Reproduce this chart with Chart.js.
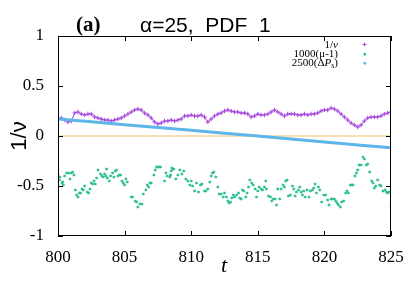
<!DOCTYPE html>
<html>
<head>
<meta charset="utf-8">
<script src="https://cdn.jsdelivr.net/npm/chart.js@4/dist/chart.umd.min.js"></script>
<style>
  html, body { margin: 0; padding: 0; background: #fff; }
  #wrap { width: 412px; height: 289px; }
</style>
</head>
<body>
<div id="wrap"><canvas id="chart" width="412" height="289"></canvas></div>
<script>
// tick labels
const xTicks = [800, 805, 810, 815, 820, 825];
const yTicks = [-1, -0.5, 0, 0.5, 1];
const yTickText = ["-1", "-0.5", "0", "0.5", "1"];

// 1/nu, sampled every 0.25 in t
const nuT = [
  800, 800.25, 800.5, 800.75, 801, 801.25, 801.5, 801.75, 802, 802.25, 802.5, 802.75,
  803, 803.25, 803.5, 803.75, 804, 804.25, 804.5, 804.75, 805, 805.25, 805.5, 805.75,
  806, 806.25, 806.5, 806.75, 807, 807.25, 807.5, 807.75, 808, 808.25, 808.5, 808.75,
  809, 809.25, 809.5, 809.75, 810, 810.25, 810.5, 810.75, 811, 811.25, 811.5, 811.75,
  812, 812.25, 812.5, 812.75, 813, 813.25, 813.5, 813.75, 814, 814.25, 814.5, 814.75,
  815, 815.25, 815.5, 815.75, 816, 816.25, 816.5, 816.75, 817, 817.25, 817.5, 817.75,
  818, 818.25, 818.5, 818.75, 819, 819.25, 819.5, 819.75, 820, 820.25, 820.5, 820.75,
  821, 821.25, 821.5, 821.75, 822, 822.25, 822.5, 822.75, 823, 823.25, 823.5, 823.75,
  824, 824.25, 824.5, 824.75, 825
];
const nuV = [
  0.17, 0.18, 0.16, 0.14, 0.15, 0.23, 0.24, 0.22, 0.21, 0.22, 0.22, 0.19,
  0.18, 0.17, 0.16, 0.16, 0.15, 0.16, 0.17, 0.18, 0.20, 0.22, 0.24, 0.26,
  0.27, 0.26, 0.23, 0.21, 0.18, 0.14, 0.12, 0.13, 0.15, 0.15, 0.16, 0.15,
  0.16, 0.17, 0.20, 0.20, 0.21, 0.20, 0.20, 0.21, 0.19, 0.14, 0.17, 0.20,
  0.22, 0.23, 0.25, 0.26, 0.25, 0.24, 0.24, 0.23, 0.23, 0.22, 0.19, 0.20,
  0.22, 0.21, 0.21, 0.22, 0.24, 0.26, 0.24, 0.22, 0.20, 0.22, 0.22, 0.22,
  0.21, 0.21, 0.22, 0.21, 0.22, 0.22, 0.23, 0.25, 0.26, 0.26, 0.28, 0.27,
  0.25, 0.22, 0.19, 0.16, 0.13, 0.11, 0.09, 0.11, 0.15, 0.18, 0.19, 0.19,
  0.19, 0.20, 0.22, 0.23, 0.24
];

// 1000(mu-1)
const muT = [
  800.0, 800.1, 800.15, 800.3, 800.35, 800.4, 800.5, 800.65, 800.8, 800.9,
  801.0, 801.1, 801.2, 801.3, 801.4, 801.5, 801.6, 801.7, 801.8, 801.9,
  802.0, 802.2, 802.3, 802.4, 802.5, 802.6, 802.7, 802.8, 802.9, 803.0,
  803.2, 803.3, 803.4, 803.5, 803.6, 803.65, 803.7, 803.85, 803.95, 804.1,
  804.2, 804.3, 804.4, 804.5, 804.6, 804.7, 804.8, 804.9, 805.0, 805.1,
  805.2, 805.5, 805.6, 805.8, 805.9, 806.0, 806.15, 806.3, 806.4, 806.6,
  806.7, 806.8, 806.9, 807.0, 807.2, 807.3, 807.4, 807.5, 807.6, 807.7,
  808.0, 808.1, 808.2, 808.4, 808.45, 808.5, 808.55, 808.6, 808.7, 808.85,
  809.0, 809.15, 809.3, 809.45, 809.6, 809.75, 809.9, 810.0, 810.1, 810.25,
  810.4, 810.55, 810.7, 810.8, 811.0, 811.1, 811.25, 811.4, 811.5, 811.6,
  811.7, 811.85, 812.0, 812.1, 812.25, 812.4, 812.5, 812.65, 812.75, 812.85,
  812.95, 813.05, 813.15, 813.25, 813.4, 813.55, 813.65, 813.75, 813.85, 813.95,
  814.1, 814.2, 814.3, 814.4, 814.55, 814.65, 814.8, 814.9, 815.0, 815.1,
  815.25, 815.35, 815.5, 815.6, 815.65, 815.8, 815.95, 816.05, 816.15, 816.3,
  816.4, 816.5, 816.65, 816.75, 816.9, 817.0, 817.1, 817.2, 817.3, 817.45,
  817.6, 817.7, 817.8, 817.9, 818.05, 818.15, 818.25, 818.35, 818.45, 818.55,
  818.7, 818.85, 818.95, 819.1, 819.2, 819.3, 819.4, 819.55, 819.65, 819.8,
  819.95, 820.1, 820.25, 820.35, 820.5, 820.6, 820.75, 820.85, 820.95, 821.05,
  821.2, 821.3, 821.45, 821.6, 821.7, 821.8, 821.95, 822.05, 822.15, 822.3,
  822.4, 822.5, 822.6, 822.75, 822.9, 823.0, 823.15, 823.25, 823.4, 823.55,
  823.65, 823.75, 823.85, 824.0, 824.15, 824.25, 824.4, 824.55, 824.65, 824.75,
  824.85, 825.0
];
const muV = [
  -0.38, -0.44, -0.41, -0.47, -0.46, -0.49, -0.40, -0.37, -0.37, -0.43,
  -0.37, -0.36, -0.39, -0.54, -0.59, -0.61, -0.57, -0.57, -0.53, -0.54,
  -0.50, -0.56, -0.57, -0.53, -0.47, -0.48, -0.45, -0.48, -0.42, -0.34,
  -0.38, -0.40, -0.41, -0.38, -0.40, -0.33, -0.42, -0.45, -0.40, -0.37,
  -0.41, -0.35, -0.34, -0.40, -0.39, -0.39, -0.45, -0.47, -0.49, -0.43,
  -0.46, -0.61, -0.61, -0.65, -0.66, -0.71, -0.68, -0.68, -0.58, -0.54,
  -0.49, -0.51, -0.47, -0.47, -0.39, -0.34, -0.31, -0.31, -0.31, -0.31,
  -0.45, -0.37, -0.40, -0.41, -0.39, -0.35, -0.32, -0.33, -0.33, -0.43,
  -0.39, -0.34, -0.38, -0.35, -0.43, -0.45, -0.49, -0.45, -0.50, -0.55,
  -0.47, -0.56, -0.49, -0.48, -0.55, -0.55, -0.53, -0.46, -0.40, -0.37,
  -0.36, -0.41, -0.51, -0.58, -0.58, -0.61, -0.57, -0.61, -0.65, -0.67,
  -0.66, -0.62, -0.59, -0.61, -0.59, -0.57, -0.62, -0.63, -0.54, -0.55,
  -0.61, -0.57, -0.51, -0.44, -0.47, -0.49, -0.53, -0.61, -0.55, -0.51,
  -0.53, -0.54, -0.51, -0.45, -0.53, -0.60, -0.61, -0.65, -0.63, -0.63,
  -0.69, -0.53, -0.63, -0.53, -0.49, -0.51, -0.45, -0.44, -0.60, -0.59,
  -0.50, -0.53, -0.60, -0.56, -0.54, -0.51, -0.56, -0.59, -0.55, -0.61,
  -0.54, -0.61, -0.55, -0.54, -0.52, -0.48, -0.57, -0.51, -0.54, -0.66,
  -0.59, -0.59, -0.64, -0.69, -0.63, -0.63, -0.63, -0.65, -0.67, -0.69,
  -0.71, -0.66, -0.65, -0.57, -0.55, -0.57, -0.49, -0.49, -0.49, -0.40,
  -0.37, -0.34, -0.29, -0.29, -0.21, -0.23, -0.29, -0.28, -0.36, -0.45,
  -0.47, -0.52, -0.50, -0.44, -0.49, -0.50, -0.55, -0.54, -0.56, -0.57,
  -0.56, -0.70
];

// 2500(dPs)
const psT = [800, 802.5, 805, 807.5, 810, 812.5, 815, 817.5, 820, 822.5, 825];
const psV = [0.170, 0.143, 0.113, 0.085, 0.057, 0.028, 0.000, -0.030, -0.060, -0.090, -0.118];

// zero line
const zeroT = [800, 825];
const zeroV = [0, 0];

const purple = "#a546dc";
const green = "#2fbf94";
const blue = "#5cb6ea";
const orange = "#f0c46a";
const serif = "Liberation Serif";

function pairs(xs, ys) {
  return xs.map((x, i) => ({ x, y: ys[i] }));
}

const frame = {
  id: "frame",
  afterDraw(chart) {
    const ctx = chart.ctx;
    const a = chart.chartArea;
    const xs = chart.scales.x;
    const ys = chart.scales.y;
    ctx.save();
    ctx.strokeStyle = "#000";
    ctx.lineWidth = 1;
    ctx.strokeRect(a.left + 0.5, a.top + 0.5, a.right - a.left - 1, a.bottom - a.top - 1);
    ctx.beginPath();
    xTicks.forEach((t) => {
      const px = Math.round(xs.getPixelForValue(t)) + 0.5;
      ctx.moveTo(px, a.bottom);
      ctx.lineTo(px, a.bottom - 5);
      ctx.moveTo(px, a.top);
      ctx.lineTo(px, a.top + 5);
    });
    yTicks.forEach((v) => {
      const py = Math.round(ys.getPixelForValue(v)) + 0.5;
      ctx.moveTo(a.left, py);
      ctx.lineTo(a.left + 5, py);
      ctx.moveTo(a.right, py);
      ctx.lineTo(a.right - 5, py);
    });
    ctx.stroke();

    // title
    ctx.fillStyle = "#000";
    ctx.textBaseline = "alphabetic";
    ctx.textAlign = "left";
    ctx.font = "bold 21px 'Liberation Serif'";
    ctx.fillText("(a)", 76, 31);
    ctx.font = "21px 'Liberation Sans'";
    ctx.fillText("\u03b1=25,  PDF  1", 140, 32);

    // axis titles
    ctx.save();
    ctx.translate(26, 136);
    ctx.rotate(-Math.PI / 2);
    ctx.textAlign = "center";
    ctx.font = "22px 'Liberation Sans'";
    ctx.fillText("1/\u03bd", 0, 0);
    ctx.restore();
    ctx.textAlign = "center";
    ctx.font = "italic 22px 'Liberation Serif'";
    ctx.fillText("t", 224, 272);

    // legend
    const right = 338;
    const rows = [
      [["1/", ""], ["\u03bd", "i"]],
      [["1000(\u03bc-1)", ""]],
      [["2500(\u0394", ""], ["P", "i"], ["s", "sub"], [")", ""]],
    ];
    const base = [48, 57, 66];
    rows.forEach((parts, r) => {
      const fontOf = (k) =>
        k === "i" ? "italic 11px 'Liberation Serif'" :
        k === "sub" ? "8px 'Liberation Serif'" : "11px 'Liberation Serif'";
      let w = 0;
      parts.forEach(([s, k]) => { ctx.font = fontOf(k); w += ctx.measureText(s).width; });
      let x = right - w;
      ctx.textAlign = "left";
      parts.forEach(([s, k]) => {
        ctx.font = fontOf(k);
        ctx.fillText(s, x, base[r] + (k === "sub" ? 2 : 0));
        x += ctx.measureText(s).width;
      });
    });
    // legend markers
    ctx.strokeStyle = purple;
    ctx.beginPath();
    ctx.moveTo(362.5, 44.5); ctx.lineTo(366.5, 44.5);
    ctx.moveTo(364.5, 42.5); ctx.lineTo(364.5, 46.5);
    ctx.stroke();
    ctx.fillStyle = green;
    ctx.fillRect(363.5, 53, 2.5, 2.5);
    ctx.fillStyle = blue;
    ctx.fillRect(363.5, 62, 2.5, 2.5);
    ctx.restore();
  },
};

new Chart(document.getElementById("chart"), {
  type: "scatter",
  data: {
    datasets: [
      {
        label: "1/\u03bd",
        data: pairs(nuT, nuV),
        pointStyle: "cross",
        pointRadius: 2.2,
        borderColor: purple,
        borderWidth: 1,
        showLine: true,
        order: 3,
      },
      {
        label: "1000(\u03bc-1)",
        data: pairs(muT, muV),
        pointStyle: "rect",
        pointRadius: 1.4,
        backgroundColor: green,
        borderColor: green,
        borderWidth: 0.5,
        showLine: false,
        order: 2,
      },
      {
        label: "2500(\u0394Ps)",
        data: pairs(psT, psV),
        showLine: true,
        pointRadius: 0,
        borderColor: blue,
        borderWidth: 3,
        order: 1,
      },
      {
        label: "zero",
        data: pairs(zeroT, zeroV),
        showLine: true,
        pointRadius: 0,
        borderColor: orange,
        borderWidth: 1.2,
        order: 4,
      },
    ],
  },
  options: {
    responsive: false,
    animation: false,
    events: [],
    layout: { padding: { top: 36, right: 21, left: 0, bottom: 0 } },
    plugins: {
      legend: { display: false },
      tooltip: { enabled: false },
    },
    scales: {
      x: {
        type: "linear",
        min: 800,
        max: 825,
        afterFit(scale) { scale.height = 53; },
        afterBuildTicks(scale) { scale.ticks = xTicks.map((v) => ({ value: v })); },
        grid: { display: false },
        border: { display: false },
        ticks: {
          color: "#000",
          padding: 3,
          maxRotation: 0,
          font: { family: serif, size: 17 },
          callback: (v) => String(v),
        },
      },
      y: {
        min: -1,
        max: 1,
        afterFit(scale) { scale.width = 58; },
        afterBuildTicks(scale) { scale.ticks = yTicks.map((v) => ({ value: v })); },
        grid: { display: false },
        border: { display: false },
        ticks: {
          color: "#000",
          padding: 6,
          font: { family: serif, size: 17 },
          callback: (v) => yTickText[yTicks.indexOf(v)],
        },
      },
    },
  },
  plugins: [frame],
});
</script>
</body>
</html>
